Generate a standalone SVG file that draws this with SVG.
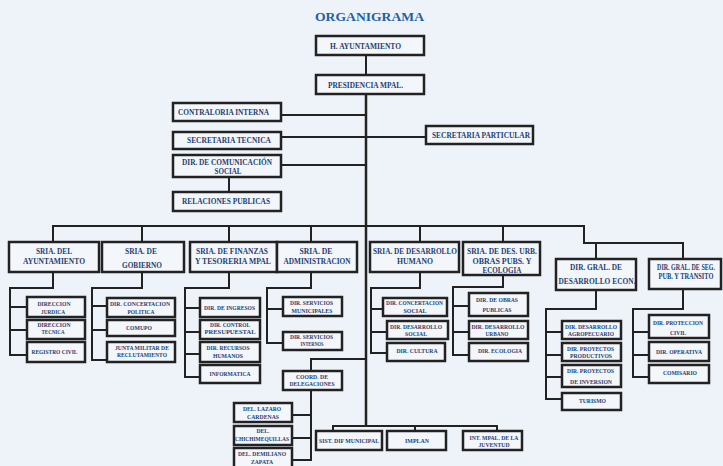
<svg xmlns="http://www.w3.org/2000/svg" width="723" height="466" viewBox="0 0 723 466">
<style>
.bg{fill:#eef3fa}
.b{fill:#f3f6fb;stroke:#222;stroke-width:2.5}
.c line,.c polyline{stroke:#222;stroke-width:2;fill:none}
text{font-family:"Liberation Serif","Times New Roman",serif;font-weight:bold;fill:#1f3f73;text-anchor:middle}
.l{font-size:8.5px}
.s{font-size:5.7px}
.title{font-size:13.5px;fill:#1f5fa8}
</style>
<rect class="bg" x="0" y="0" width="723" height="466"/>
<text class="title" x="369.5" y="21" textLength="109" lengthAdjust="spacingAndGlyphs">ORGANIGRAMA</text>

<g id="connectors" class="c">
<line x1="366" y1="55" x2="366" y2="75"/>
<line x1="366" y1="94" x2="366" y2="426" style="stroke-width:2.5"/>
<line x1="281" y1="115" x2="366" y2="115"/>
<line x1="281" y1="137" x2="426" y2="137"/>
<line x1="281" y1="165" x2="366" y2="165"/>
<line x1="229" y1="177" x2="229" y2="192"/>
<polyline points="53,242 53,226 584,226 584,243 683,243 683,259"/>
<line x1="142" y1="226" x2="142" y2="242"/>
<line x1="229" y1="226" x2="229" y2="242"/>
<line x1="311" y1="226" x2="311" y2="242"/>
<line x1="420" y1="226" x2="420" y2="242"/>
<line x1="503" y1="226" x2="503" y2="242"/>
<line x1="596" y1="243" x2="596" y2="259"/>
<polyline points="53,272 53,288 10,288 10,355 27,355"/>
<line x1="10" y1="307" x2="27" y2="307"/>
<line x1="10" y1="330" x2="27" y2="330"/>
<polyline points="142,272 142,288 92,288 92,360 107,360"/>
<line x1="92" y1="306" x2="107" y2="306"/>
<line x1="92" y1="330" x2="107" y2="330"/>
<polyline points="229,272 229,288 185,288 185,377 200,377"/>
<line x1="185" y1="308" x2="200" y2="308"/>
<line x1="185" y1="332" x2="200" y2="332"/>
<line x1="185" y1="354" x2="200" y2="354"/>
<polyline points="311,272 311,288 267,288 267,343 283,343"/>
<line x1="267" y1="309" x2="283" y2="309"/>
<polyline points="366,359 311,359 311,371"/>
<polyline points="311,390 311,460 292,460"/>
<line x1="292" y1="415" x2="311" y2="415"/>
<line x1="292" y1="438" x2="311" y2="438"/>
<polyline points="420,272 420,288 371,288 371,353 387,353"/>
<line x1="371" y1="309" x2="383" y2="309"/>
<line x1="371" y1="332" x2="387" y2="332"/>
<polyline points="503,275 503,287 453,287 453,355 469,355"/>
<line x1="453" y1="306" x2="469" y2="306"/>
<line x1="453" y1="332" x2="469" y2="332"/>
<polyline points="596,290 596,309 546,309 546,399 562,399"/>
<line x1="546" y1="332" x2="562" y2="332"/>
<line x1="546" y1="355" x2="562" y2="355"/>
<line x1="546" y1="377" x2="562" y2="377"/>
<polyline points="683,289 683,309 633,309 633,377 649,377"/>
<line x1="633" y1="332" x2="649" y2="332"/>
<line x1="633" y1="355" x2="649" y2="355"/>
<polyline points="333,431 333,426 497,426 497,431"/>
<line x1="415" y1="426" x2="415" y2="431"/>
</g>

<g id="ayuntamiento"><rect class="b" x="316" y="36" width="108" height="19"/><text class="l" x="365.5" y="48.5" textLength="71" lengthAdjust="spacingAndGlyphs">H. AYUNTAMIENTO</text></g>
<g id="presidencia"><rect class="b" x="316" y="75" width="108" height="19"/><text class="l" x="365.5" y="87.5" textLength="75" lengthAdjust="spacingAndGlyphs">PRESIDENCIA MPAL.</text></g>
<g id="contraloria"><rect class="b" x="173" y="103" width="108" height="18"/><text class="l" x="223.5" y="115" textLength="91" lengthAdjust="spacingAndGlyphs">CONTRALORIA INTERNA</text></g>
<g id="sec-tecnica"><rect class="b" x="173" y="132" width="108" height="17"/><text class="l" x="229" y="143" textLength="84" lengthAdjust="spacingAndGlyphs">SECRETARIA TECNICA</text></g>
<g id="sec-particular"><rect class="b" x="426" y="126" width="107" height="18"/><text class="l" x="481" y="137.5" textLength="98" lengthAdjust="spacingAndGlyphs">SECRETARIA PARTICULAR</text></g>
<g id="comunicacion"><rect class="b" x="173" y="155" width="108" height="22"/><text class="l" x="227" y="165" textLength="90" lengthAdjust="spacingAndGlyphs">DIR. DE COMUNICACIÓN</text><text class="l" x="228" y="174" textLength="27" lengthAdjust="spacingAndGlyphs">SOCIAL</text></g>
<g id="relaciones"><rect class="b" x="173" y="192" width="108" height="19"/><text class="l" x="226" y="204" textLength="88" lengthAdjust="spacingAndGlyphs">RELACIONES PUBLICAS</text></g>

<g id="sria-ayuntamiento"><rect class="b" x="9" y="242" width="90" height="30"/><text class="l" x="54" y="254" textLength="36" lengthAdjust="spacingAndGlyphs">SRIA. DEL</text><text class="l" x="54" y="264" textLength="62" lengthAdjust="spacingAndGlyphs">AYUNTAMIENTO</text></g>
<g id="sria-gobierno"><rect class="b" x="102" y="242" width="82" height="30"/><text class="l" x="141" y="254" textLength="32" lengthAdjust="spacingAndGlyphs">SRIA. DE</text><text class="l" x="142" y="268" textLength="40" lengthAdjust="spacingAndGlyphs">GOBIERNO</text></g>
<g id="sria-finanzas"><rect class="b" x="190" y="242" width="87" height="30"/><text class="l" x="232" y="254" textLength="72" lengthAdjust="spacingAndGlyphs">SRIA. DE FINANZAS</text><text class="l" x="233" y="264" textLength="76" lengthAdjust="spacingAndGlyphs">Y TESORERIA MPAL</text></g>
<g id="sria-administracion"><rect class="b" x="277" y="242" width="80" height="30"/><text class="l" x="316" y="254" textLength="33" lengthAdjust="spacingAndGlyphs">SRIA. DE</text><text class="l" x="317" y="264" textLength="67" lengthAdjust="spacingAndGlyphs">ADMINISTRACION</text></g>
<g id="sria-humano"><rect class="b" x="370" y="242" width="89" height="30"/><text class="l" x="415" y="254" textLength="84" lengthAdjust="spacingAndGlyphs">SRIA. DE DESARROLLO</text><text class="l" x="415" y="264" textLength="36" lengthAdjust="spacingAndGlyphs">HUMANO</text></g>
<g id="sria-obras"><rect class="b" x="463" y="242" width="77" height="33"/><text class="l" x="502" y="254" textLength="70" lengthAdjust="spacingAndGlyphs">SRIA. DE DES. URB.</text><text class="l" x="502" y="264" textLength="59" lengthAdjust="spacingAndGlyphs">OBRAS PUBS. Y</text><text class="l" x="502" y="273" textLength="39" lengthAdjust="spacingAndGlyphs">ECOLOGIA</text></g>
<g id="dir-econ"><rect class="b" x="556" y="259" width="80" height="31"/><text class="l" x="596" y="270" textLength="52" lengthAdjust="spacingAndGlyphs">DIR. GRAL. DE</text><text class="l" x="597" y="284" textLength="77" lengthAdjust="spacingAndGlyphs">DESARROLLO ECON.</text></g>
<g id="dir-seg"><rect class="b" x="649" y="259" width="72" height="30"/><text class="l" transform="translate(686,270) scale(0.71,1)" x="0" y="0">DIR. GRAL. DE SEG.</text><text class="l" transform="translate(686,279) scale(0.755,1)" x="0" y="0">PUB. Y TRANSITO</text></g>

<g id="dir-juridica"><rect class="b" x="27" y="297" width="58" height="20"/><text class="s" x="54" y="306" textLength="33" lengthAdjust="spacingAndGlyphs">DIRECCION</text><text class="s" x="53" y="313.5" textLength="24" lengthAdjust="spacingAndGlyphs">JURDICA</text></g>
<g id="dir-tecnica"><rect class="b" x="27" y="320" width="58" height="19"/><text class="s" x="54" y="326.5" textLength="33" lengthAdjust="spacingAndGlyphs">DIRECCION</text><text class="s" x="53" y="333.5" textLength="23" lengthAdjust="spacingAndGlyphs">TECNICA</text></g>
<g id="registro-civil"><rect class="b" x="27" y="342" width="58" height="20"/><text class="s" x="54.5" y="353.5" textLength="46" lengthAdjust="spacingAndGlyphs">REGISTRO CIVIL</text></g>

<g id="dir-concertacion-politica"><rect class="b" x="107" y="298" width="68" height="19"/><text class="s" x="140" y="306" textLength="60" lengthAdjust="spacingAndGlyphs">DIR. CONCERTACION</text><text class="s" x="141" y="313.5" textLength="27" lengthAdjust="spacingAndGlyphs">POLITICA</text></g>
<g id="comupo"><rect class="b" x="107" y="320" width="68" height="16"/><text class="s" x="139" y="330" textLength="26" lengthAdjust="spacingAndGlyphs">COMUPO</text></g>
<g id="junta-militar"><rect class="b" x="107" y="342" width="68" height="20"/><text class="s" x="142" y="349.5" textLength="54" lengthAdjust="spacingAndGlyphs">JUNTA MILITAR DE</text><text class="s" x="142" y="356.5" textLength="50" lengthAdjust="spacingAndGlyphs">RECLUTAMIENTO</text></g>

<g id="dir-ingresos"><rect class="b" x="200" y="298" width="60" height="19"/><text class="s" x="229.5" y="310" textLength="51" lengthAdjust="spacingAndGlyphs">DIR. DE INGRESOS</text></g>
<g id="dir-control"><rect class="b" x="200" y="320" width="60" height="19"/><text class="s" x="230" y="326.5" textLength="40" lengthAdjust="spacingAndGlyphs">DIR. CONTROL</text><text class="s" x="230" y="334" textLength="51" lengthAdjust="spacingAndGlyphs">PRESUPUESTAL</text></g>
<g id="dir-recursos"><rect class="b" x="200" y="342" width="60" height="20"/><text class="s" x="228" y="349.5" textLength="43" lengthAdjust="spacingAndGlyphs">DIR. RECURSOS</text><text class="s" x="228" y="357.5" textLength="30" lengthAdjust="spacingAndGlyphs">HUMANOS</text></g>
<g id="informatica"><rect class="b" x="200" y="365" width="60" height="18"/><text class="s" x="230" y="375.5" textLength="41" lengthAdjust="spacingAndGlyphs">INFORMATICA</text></g>

<g id="dir-serv-municipales"><rect class="b" x="283" y="297" width="59" height="19"/><text class="s" x="311.5" y="305" textLength="43" lengthAdjust="spacingAndGlyphs">DIR. SERVICIOS</text><text class="s" x="312" y="313" textLength="41" lengthAdjust="spacingAndGlyphs">MUNICIPALES</text></g>
<g id="dir-serv-internos"><rect class="b" x="283" y="332" width="59" height="18"/><text class="s" x="311.5" y="338.5" textLength="43" lengthAdjust="spacingAndGlyphs">DIR. SERVICIOS</text><text class="s" x="312" y="346" textLength="23" lengthAdjust="spacingAndGlyphs">INTERNOS</text></g>
<g id="coord-delegaciones"><rect class="b" x="283" y="371" width="59" height="19"/><text class="s" x="312" y="378.5" textLength="32" lengthAdjust="spacingAndGlyphs">COORD. DE</text><text class="s" x="312" y="385.5" textLength="45" lengthAdjust="spacingAndGlyphs">DELEGACIONES</text></g>
<g id="del-lazaro"><rect class="b" x="234" y="403" width="58" height="19"/><text class="s" x="262" y="410.5" textLength="38" lengthAdjust="spacingAndGlyphs">DEL. LAZARO</text><text class="s" x="263" y="418.5" textLength="32" lengthAdjust="spacingAndGlyphs">CARDENAS</text></g>
<g id="del-chichimequillas"><rect class="b" x="234" y="426" width="58" height="19"/><text class="s" x="263" y="432.5" textLength="13" lengthAdjust="spacingAndGlyphs">DEL.</text><text class="s" x="262" y="440.5" textLength="54" lengthAdjust="spacingAndGlyphs">CHICHIMEQUILLAS</text></g>
<g id="del-zapata"><rect class="b" x="234" y="448" width="58" height="20"/><text class="s" x="262" y="456" textLength="48" lengthAdjust="spacingAndGlyphs">DEL. DEMILIANO</text><text class="s" x="262" y="463.5" textLength="22" lengthAdjust="spacingAndGlyphs">ZAPATA</text></g>

<g id="dir-concertacion-social"><rect class="b" x="383" y="298" width="64" height="18"/><text class="s" x="414.5" y="305" textLength="57" lengthAdjust="spacingAndGlyphs">DIR. CONCERTACION</text><text class="s" x="415" y="313" textLength="23" lengthAdjust="spacingAndGlyphs">SOCIAL</text></g>
<g id="dir-desarrollo-social"><rect class="b" x="387" y="321" width="61" height="18"/><text class="s" x="416" y="329" textLength="52" lengthAdjust="spacingAndGlyphs">DIR. DESARROLLO</text><text class="s" x="416" y="336" textLength="22" lengthAdjust="spacingAndGlyphs">SOCIAL</text></g>
<g id="dir-cultura"><rect class="b" x="387" y="343" width="58" height="18"/><text class="s" x="417" y="352.5" textLength="41" lengthAdjust="spacingAndGlyphs">DIR. CULTURA</text></g>

<g id="dir-obras"><rect class="b" x="469" y="293" width="59" height="23"/><text class="s" x="497" y="301.5" textLength="42" lengthAdjust="spacingAndGlyphs">DIR.  DE OBRAS</text><text class="s" x="497" y="311.5" textLength="29" lengthAdjust="spacingAndGlyphs">PUBLICAS</text></g>
<g id="dir-urbano"><rect class="b" x="469" y="321" width="59" height="18"/><text class="s" x="498" y="328.5" textLength="53" lengthAdjust="spacingAndGlyphs">DIR. DESARROLLO</text><text class="s" x="497" y="335.5" textLength="23" lengthAdjust="spacingAndGlyphs">URBANO</text></g>
<g id="dir-ecologia"><rect class="b" x="469" y="343" width="59" height="18"/><text class="s" x="500" y="352.5" textLength="44" lengthAdjust="spacingAndGlyphs">DIR. ECOLOGIA</text></g>

<g id="dir-agropecuario"><rect class="b" x="562" y="321" width="59" height="18"/><text class="s" x="591" y="328.5" textLength="52" lengthAdjust="spacingAndGlyphs">DIR. DESARROLLO</text><text class="s" x="591" y="335.5" textLength="46" lengthAdjust="spacingAndGlyphs">AGROPECUARIO</text></g>
<g id="dir-productivos"><rect class="b" x="562" y="343" width="59" height="18"/><text class="s" x="590.5" y="350.5" textLength="47" lengthAdjust="spacingAndGlyphs">DIR. PROYECTOS</text><text class="s" x="591" y="357.5" textLength="42" lengthAdjust="spacingAndGlyphs">PRODUCTIVOS</text></g>
<g id="dir-inversion"><rect class="b" x="562" y="365" width="59" height="22"/><text class="s" x="590.5" y="373" textLength="47" lengthAdjust="spacingAndGlyphs">DIR. PROYECTOS</text><text class="s" x="591" y="383.5" textLength="42" lengthAdjust="spacingAndGlyphs">DE INVERSION</text></g>
<g id="turismo"><rect class="b" x="562" y="393" width="59" height="17"/><text class="s" x="592.5" y="403" textLength="27" lengthAdjust="spacingAndGlyphs">TURISMO</text></g>

<g id="dir-proteccion"><rect class="b" x="649" y="315" width="60" height="23"/><text class="s" x="678" y="324.5" textLength="50" lengthAdjust="spacingAndGlyphs">DIR. PROTECCION</text><text class="s" x="678" y="334.5" textLength="16" lengthAdjust="spacingAndGlyphs">CIVIL</text></g>
<g id="dir-operativa"><rect class="b" x="649" y="342" width="60" height="19"/><text class="s" x="679" y="353.5" textLength="46" lengthAdjust="spacingAndGlyphs">DIR. OPERATIVA</text></g>
<g id="comisario"><rect class="b" x="649" y="365" width="60" height="18"/><text class="s" x="680" y="374.5" textLength="34" lengthAdjust="spacingAndGlyphs">COMISARIO</text></g>

<g id="sist-dif"><rect class="b" x="316" y="431" width="66" height="19"/><text class="s" x="349" y="442.5" textLength="60" lengthAdjust="spacingAndGlyphs">SIST. DIF  MUNICIPAL</text></g>
<g id="implan"><rect class="b" x="387" y="431" width="59" height="19"/><text class="s" x="417" y="442.5" textLength="24" lengthAdjust="spacingAndGlyphs">IMPLAN</text></g>
<g id="juventud"><rect class="b" x="463" y="431" width="59" height="19"/><text class="s" x="494" y="439.5" textLength="49" lengthAdjust="spacingAndGlyphs">INT. MPAL. DE LA</text><text class="s" x="494" y="446.5" textLength="31" lengthAdjust="spacingAndGlyphs">JUVENTUD</text></g>
</svg>
